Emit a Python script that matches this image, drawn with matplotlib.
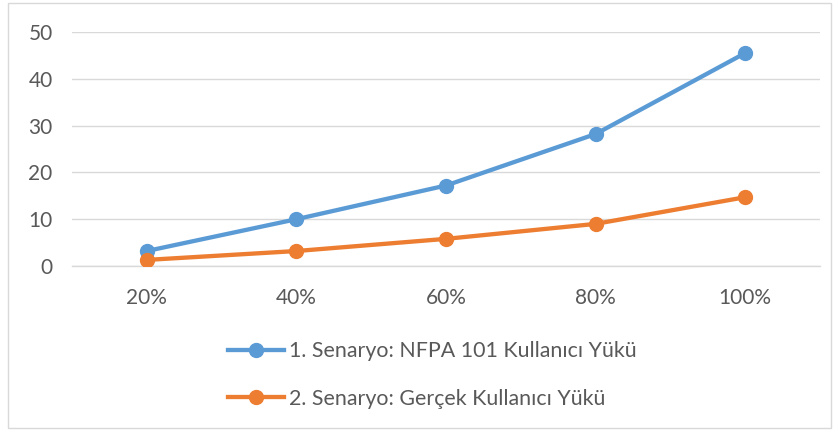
import matplotlib
matplotlib.use("Agg")
import matplotlib.pyplot as plt
from matplotlib.lines import Line2D
from matplotlib.patches import Rectangle

categories = ["20%", "40%", "60%", "80%", "100%"]
nfpa_load = [3.2, 10.0, 17.2, 28.2, 45.5]
real_load = [1.3, 3.2, 5.8, 9.0, 14.7]
series_names = ["1. Senaryo: NFPA 101 Kullanıcı Yükü",
                "2. Senaryo: Gerçek Kullanıcı Yükü"]
y_ticks = [0, 10, 20, 30, 40, 50]

blue = "#5B9BD5"
orange = "#ED7D31"
txt = "#595959"
fs = 15

plt.rcParams['font.family'] = ['Lato', 'DejaVu Sans']

fig = plt.figure(figsize=(8.39, 4.32), dpi=100)
W, H = 839, 432
# plot area in pixels: x 72..820, y 32..266
ax = fig.add_axes([72 / W, 1 - 266 / H, (820 - 72) / W, (266 - 32) / H])

x = list(range(len(categories)))
ax.plot(x, nfpa_load, color=blue, lw=3.1, marker="o", ms=10,
        solid_capstyle="round", zorder=3)
ax.plot(x, real_load, color=orange, lw=3.1, marker="o", ms=10,
        solid_capstyle="round", zorder=3)

ax.set_xlim(-0.5, len(categories) - 0.5)
ax.set_ylim(0, 50)
ax.set_yticks(y_ticks)
ax.set_xticks(x)
ax.set_xticklabels(categories)
ax.grid(axis="y", color="#D9D9D9", lw=1.0)
ax.set_axisbelow(True)
for s in ["top", "right", "left"]:
    ax.spines[s].set_visible(False)
ax.spines["bottom"].set_color("#D9D9D9")
ax.spines["bottom"].set_linewidth(1.0)
ax.tick_params(axis="both", length=0, labelsize=fs, labelcolor=txt)
ax.tick_params(axis="x", pad=16)
ax.tick_params(axis="y", pad=14)

handles = [Line2D([], [], color=blue, lw=3.1, marker="o", ms=10),
           Line2D([], [], color=orange, lw=3.1, marker="o", ms=10)]
fig.legend(handles, series_names, loc="upper left",
           bbox_to_anchor=(228 / W, 1 - 341 / H), frameon=False,
           fontsize=15.4, labelcolor=txt, handlelength=2.6,
           handletextpad=0.25, labelspacing=1.3, borderpad=0,
           borderaxespad=0)

fig.patches.append(Rectangle((8 / W, 1 - 428 / H), (831 - 8) / W, (428 - 3) / H,
                             transform=fig.transFigure, fill=False,
                             edgecolor="#D9D9D9", lw=1.0))

fig.savefig("out.png", dpi=100)
